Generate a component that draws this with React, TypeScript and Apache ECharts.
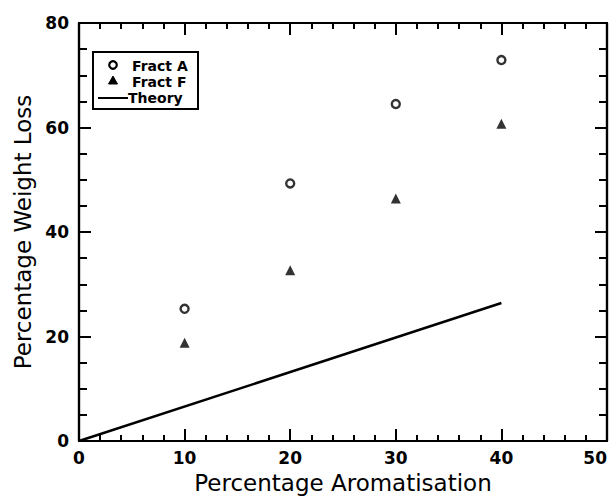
import React, { useEffect, useRef } from "react";
import * as echarts from "echarts";

const fractA: [number, number][] = [
  [10, 25.3],
  [20, 49.3],
  [30, 64.5],
  [40, 72.9],
];
const fractF: [number, number][] = [
  [10, 18.8],
  [20, 32.7],
  [30, 46.4],
  [40, 60.7],
];
const theory: [number, number][] = [
  [0, 0],
  [40, 26.4],
];
const legendNames = ["Fract A", "Fract F", "Theory"];
const xRange = { min: 0, max: 50, major: 10, minor: 2 };
const yRange = { min: 0, max: 80, major: 20, minor: 5 };

const FONT = "'DejaVu Sans', 'Liberation Sans', Arial, sans-serif";
const tickLabel = { fontFamily: FONT, fontSize: 17, fontWeight: "bold", color: "#000" };

function makeAxis(kind: "x" | "y", pos: string, major: boolean, labels: boolean) {
  const r = kind === "x" ? xRange : yRange;
  const len = major ? 12 : kind === "x" ? 6 : 8;
  return {
    type: "value",
    position: pos,
    min: r.min,
    max: r.max,
    interval: major ? r.major : r.minor,
    axisLine: { show: true, onZero: false, lineStyle: { color: "#000", width: 2.2 } },
    axisTick: {
      show: true,
      inside: false,
      length: -len,
      lineStyle: { color: "#000", width: 2 },
    },
    splitLine: { show: false },
    axisLabel: labels
      ? { show: true, ...tickLabel, margin: kind === "x" ? 8 : 10, alignMaxLabel: kind === "x" ? "right" : undefined }
      : { show: false },
  };
}

export default function App() {
  const ref = useRef<HTMLDivElement>(null);
  useEffect(() => {
    if (!ref.current) return;
    const chart = echarts.init(ref.current, null, { renderer: "svg" });
    const lx = 93;
    const ly = 52;
    const textStyle = { fontFamily: FONT, fontSize: 14, lineHeight: 14, fontWeight: "bold", fill: "#000" };
    chart.setOption({
      animation: false,
      backgroundColor: "#fff",
      grid: { left: 79, right: 7, top: 23, bottom: 55, containLabel: false, outerBoundsMode: "none" },
      xAxis: [
        {
          ...makeAxis("x", "bottom", true, true),
          name: "Percentage Aromatisation",
          nameLocation: "middle",
          nameGap: 30,
          nameTextStyle: { fontFamily: FONT, fontSize: 23, color: "#000" },
        },
        makeAxis("x", "bottom", false, false),
        makeAxis("x", "top", true, false),
        makeAxis("x", "top", false, false),
      ],
      yAxis: [
        {
          ...makeAxis("y", "left", true, true),
          name: "Percentage Weight Loss",
          nameLocation: "middle",
          nameGap: 44,
          nameTextStyle: { fontFamily: FONT, fontSize: 23, color: "#000" },
        },
        makeAxis("y", "left", false, false),
        makeAxis("y", "right", true, false),
        makeAxis("y", "right", false, false),
      ],
      graphic: [
        {
          type: "rect",
          shape: { x: lx, y: ly, width: 105, height: 57 },
          style: { fill: "#fff", stroke: "#000", lineWidth: 2 },
          z: 10,
        },
        {
          type: "circle",
          shape: { cx: lx + 20, cy: ly + 13, r: 3.8 },
          style: { fill: "#fff", stroke: "#000", lineWidth: 2.2 },
          z: 11,
        },
        {
          type: "polygon",
          shape: { points: [[lx + 20, ly + 24], [lx + 24.5, ly + 32], [lx + 15.5, ly + 32]] },
          style: { fill: "#000", stroke: "#000", lineWidth: 1 },
          z: 11,
        },
        {
          type: "line",
          shape: { x1: lx + 5, y1: ly + 46, x2: lx + 35, y2: ly + 46 },
          style: { stroke: "#000", lineWidth: 2 },
          z: 11,
        },
        { type: "text", x: lx + 39, y: ly + 14, style: { ...textStyle, text: legendNames[0], verticalAlign: "middle" }, z: 11 },
        { type: "text", x: lx + 39, y: ly + 30, style: { ...textStyle, text: legendNames[1], verticalAlign: "middle" }, z: 11 },
        { type: "text", x: lx + 35, y: ly + 46, style: { ...textStyle, text: legendNames[2], verticalAlign: "middle" }, z: 11 },
      ],
      series: [
        {
          name: legendNames[0],
          type: "scatter",
          data: fractA,
          symbol: "circle",
          symbolSize: 8,
          itemStyle: { color: "#fff", borderColor: "#000", borderWidth: 2.4 },
        },
        {
          name: legendNames[1],
          type: "scatter",
          data: fractF,
          symbol: "triangle",
          symbolSize: 10,
          itemStyle: { color: "#000" },
        },
        {
          name: legendNames[2],
          type: "line",
          data: theory,
          symbol: "none",
          lineStyle: { color: "#000", width: 2.5 },
          itemStyle: { color: "#000" },
        },
      ],
    });
    return () => chart.dispose();
  }, []);
  return (
    <div
      ref={ref}
      style={{ position: "fixed", left: 0, top: 0, width: 614, height: 496, background: "#fff" }}
    />
  );
}
